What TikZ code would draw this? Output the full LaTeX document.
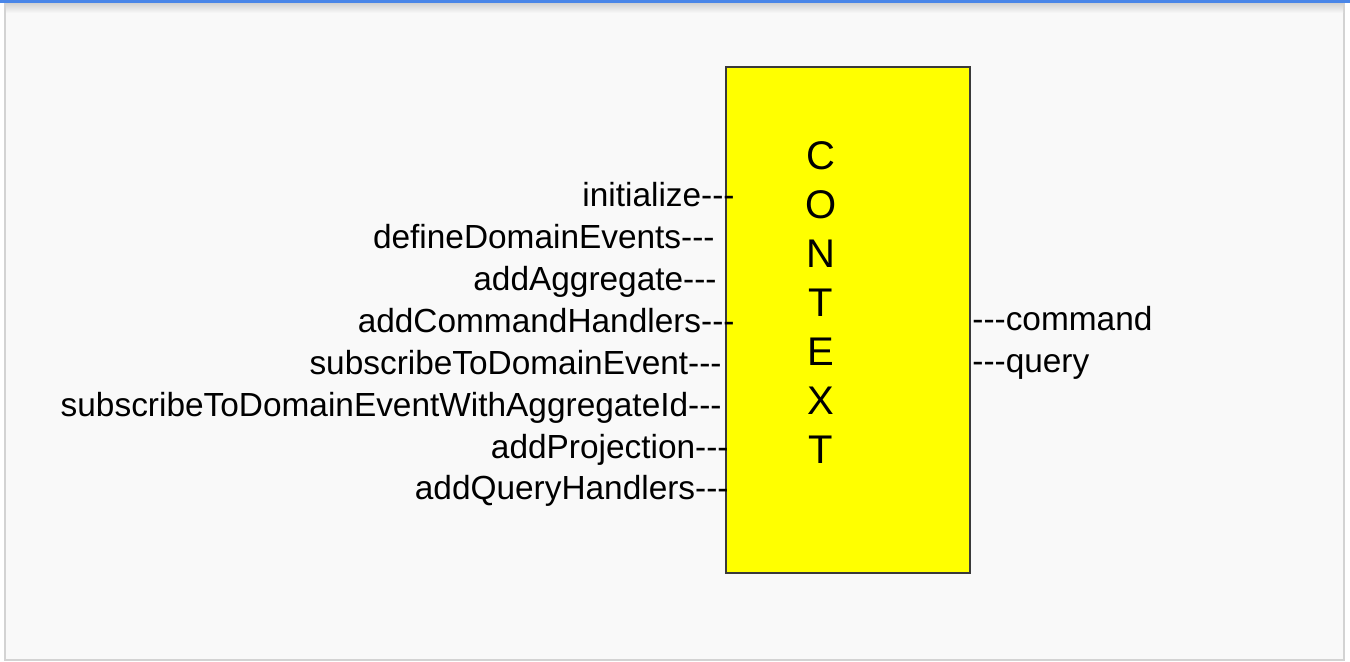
\documentclass[tikz,border=0pt]{standalone}
\usepackage{fontspec}
\setmainfont{Liberation Sans}
\definecolor{pagebg}{HTML}{F9F9F9}
\definecolor{pageframe}{HTML}{D3D3D3}
\definecolor{topbar}{HTML}{4A86E8}
\definecolor{ctxyellow}{HTML}{FFFF00}
\definecolor{ctxborder}{HTML}{3A3A3A}
\newcommand{\stub}{-{}-{}-}
\tikzset{
  method/.style={anchor=base east, inner sep=0pt, font=\fontsize{16.7}{20}\selectfont},
  result/.style={anchor=base west, inner sep=0pt, font=\fontsize{16.7}{20}\selectfont},
  letter/.style={anchor=base, inner sep=0pt, font=\fontsize{20}{24}\selectfont},
  ctxbox/.style={draw=ctxborder, fill=ctxyellow, line width=0.7pt}
}
\begin{document}
\begin{tikzpicture}[x=0.5pt, y=-0.5pt]

  % -- Page and frame --
  \useasboundingbox (0,0) rectangle (1350,662);
  \fill[white] (0,0) rectangle (1350,662);
  \fill[pagebg, draw=pageframe, line width=1pt] (5,0) rectangle (1344,660);
  \shade[top color=black!18, bottom color=pagebg] (6,3) rectangle (1343,13);
  \fill[topbar] (0,0) rectangle (1350,3);

  % -- Context box --
  \draw[ctxbox] (726,67) rectangle (970,573);
  \coordinate (ctx) at (848,320);
  \foreach \ch [count=\i] in {C,O,N,T,E,X,T}
    \node[letter] (ltr\i) at (821, 170+49*\i-49) {\ch};

  % -- Inputs on the left --
  \node[method] (init) at (735,207) {initialize\stub};
  \node[method] (defev) at (715,249) {defineDomainEvents\stub};
  \node[method] (addagg) at (717,291) {addAggregate\stub};
  \node[method] (addcmd) at (735,333) {addCommandHandlers\stub};
  \node[method] (subev) at (722,375) {subscribeToDomainEvent\stub};
  \node[method] (subagg) at (722,417) {subscribeToDomainEventWithAggregateId\stub};
  \node[method] (addproj) at (729,459) {addProjection\stub};
  \node[method] (addqry) at (729,500) {addQueryHandlers\stub};

  % -- Outputs on the right --
  \node[result] (cmd) at (972,331) {\stub command};
  \node[result] (qry) at (972,373) {\stub query};

\end{tikzpicture}
\end{document}
